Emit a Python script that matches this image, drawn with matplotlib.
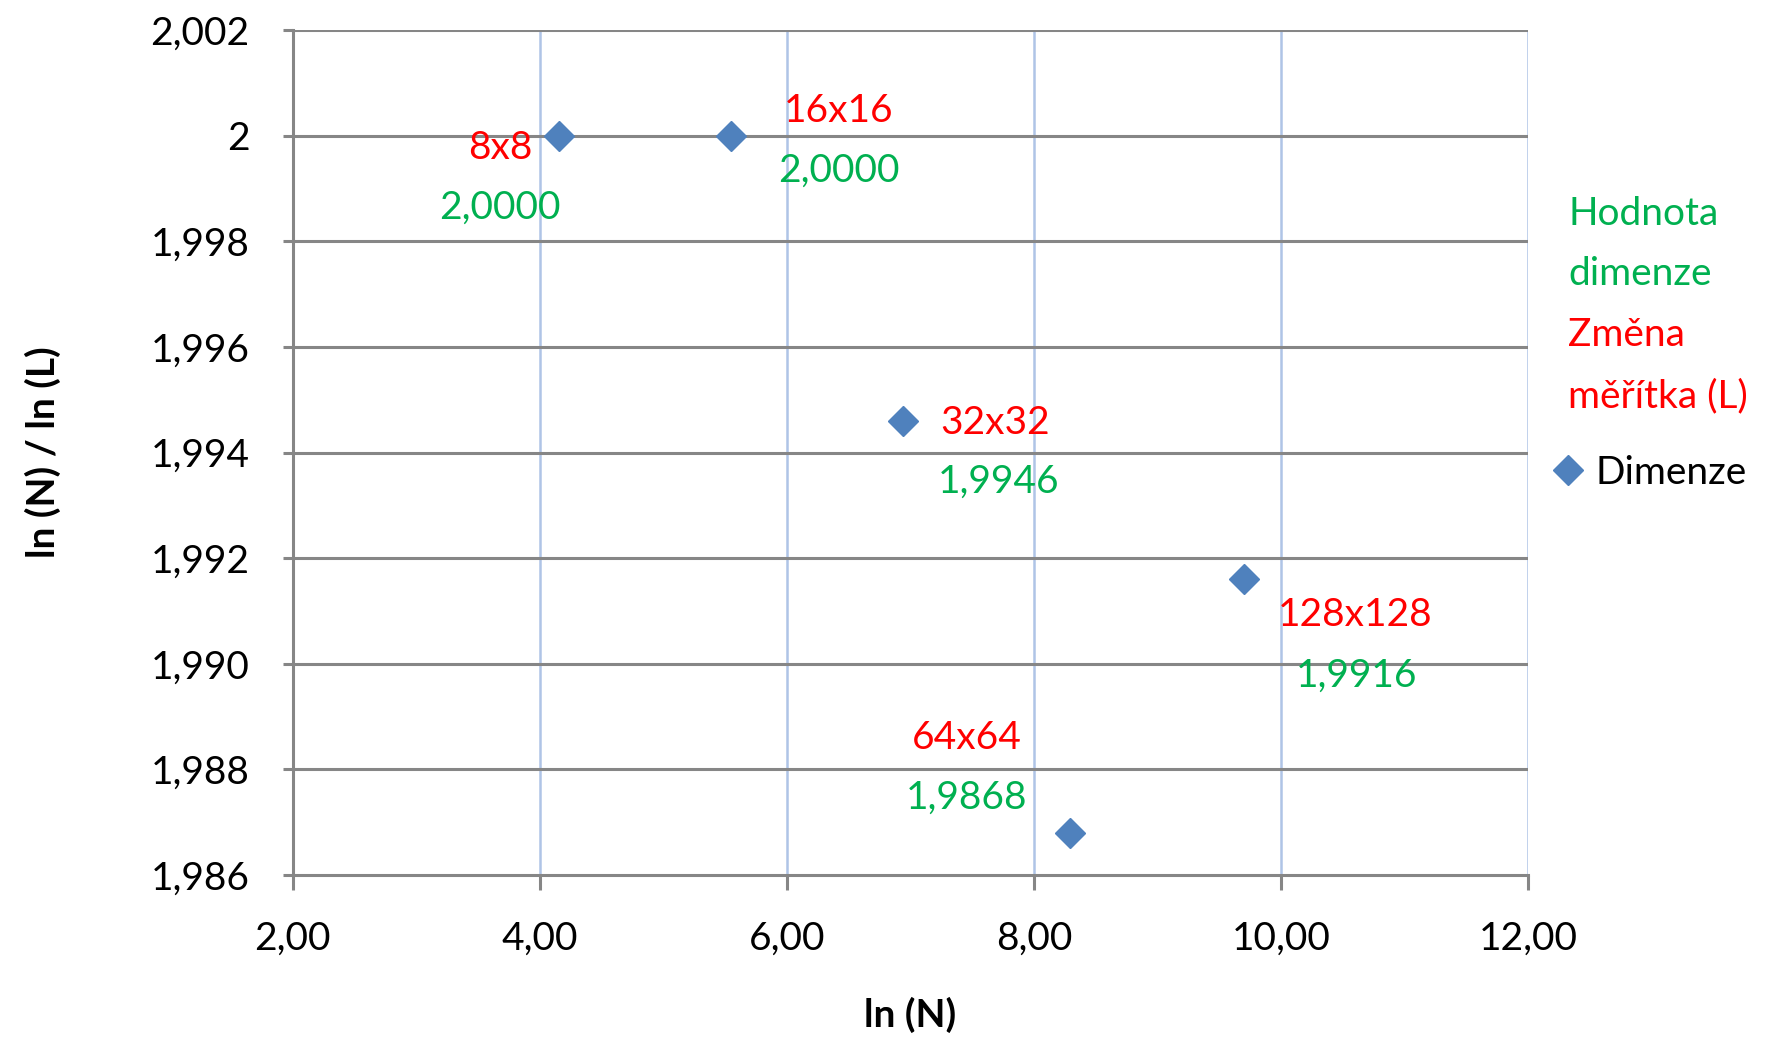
import matplotlib.pyplot as plt
from matplotlib.ticker import FuncFormatter, FixedLocator
from matplotlib.lines import Line2D

plt.rcParams['font.family'] = ['Lato', 'DejaVu Sans']

# data
sizes = ['8x8', '16x16', '32x32', '64x64', '128x128']
ln_n = [4.16, 5.55, 6.94, 8.29, 9.70]
dim = [2.0000, 2.0000, 1.9946, 1.9868, 1.9916]
dim_text = ['2,0000', '2,0000', '1,9946', '1,9868', '1,9916']

xticks = [2, 4, 6, 8, 10, 12]
yticks = [1.986, 1.988, 1.990, 1.992, 1.994, 1.996, 1.998, 2.000, 2.002]

# label offsets in pixels (red size label, green value label)
red_off = [(-27, -12, 'right'), (53, 25, 'left'), (37, -2, 'left'), (-158, 95, 'left'), (34, -36, 'left')]
green_off = [(-60, -72, 'center'), (47, -35, 'left'), (35, -61, 'left'), (-164, 35, 'left'), (52, -96, 'left')]

red = '#FF0000'
green = '#00B050'
blue = '#4F81BD'
gray = '#868686'
fs = 28

fig = plt.figure(figsize=(17.71, 10.40), dpi=100)
ax = fig.add_axes([0.1652, 0.1587, 0.8628 - 0.1652, 0.971 - 0.1587])

ax.set_xlim(2, 12)
ax.set_ylim(1.986, 2.002)

for x in xticks[1:]:
    ax.axvline(x, color='#AFC4E6', lw=1.8, zorder=1)
for y in yticks[1:]:
    ax.axhline(y, color=gray, lw=2.2, zorder=1)

ax.plot(ln_n, dim, ls='none', marker='D', ms=15, color=blue, zorder=3)

for i in range(len(sizes)):
    dx, dy, ha = red_off[i]
    ax.annotate(sizes[i], (ln_n[i], dim[i]), xytext=(dx, dy), textcoords='offset pixels',
                ha=ha, va='center', color=red, fontsize=fs)
    dx, dy, ha = green_off[i]
    ax.annotate(dim_text[i], (ln_n[i], dim[i]), xytext=(dx, dy), textcoords='offset pixels',
                ha=ha, va='center', color=green, fontsize=fs)

ax.xaxis.set_major_locator(FixedLocator(xticks))
ax.yaxis.set_major_locator(FixedLocator(yticks))
ax.xaxis.set_major_formatter(FuncFormatter(lambda v, p: ('%.2f' % v).replace('.', ',')))
ax.yaxis.set_major_formatter(FuncFormatter(
    lambda v, p: '2' if abs(v - 2) < 1e-9 else ('%.3f' % v).replace('.', ',')))

for s in ['top', 'right']:
    ax.spines[s].set_visible(False)
for s in ['left', 'bottom']:
    ax.spines[s].set_color(gray)
    ax.spines[s].set_linewidth(2.2)

ax.tick_params(axis='x', length=11, width=2.2, color=gray, labelsize=fs, pad=22)
ax.tick_params(axis='y', length=7, width=2.2, color=gray, labelsize=fs, pad=24)

ax.set_xlabel('ln (N)', fontsize=fs, fontweight='bold', labelpad=29)
ax.set_ylabel('ln (N) / ln (L)', fontsize=fs, fontweight='bold', labelpad=64)

# legend block on the right
lx = 1568 / 1771
fig.text(lx, 1 - 214 / 1040, 'Hodnota', color=green, fontsize=fs, va='center')
fig.text(lx, 1 - 274 / 1040, 'dimenze', color=green, fontsize=fs, va='center')
fig.text(lx, 1 - 335 / 1040, 'Změna', color=red, fontsize=fs, va='center')
fig.text(lx, 1 - 396 / 1040, 'měřítka (L)', color=red, fontsize=fs, va='center')
h = Line2D([], [], ls='none', marker='D', ms=15, color=blue)
fig.legend([h], ['Dimenze'], loc='center left', bbox_to_anchor=(lx - 0.022, 1 - 473 / 1040),
           frameon=False, fontsize=fs, handlelength=1.0, handletextpad=0.2, borderpad=0)

fig.savefig('out.png', dpi=100)
